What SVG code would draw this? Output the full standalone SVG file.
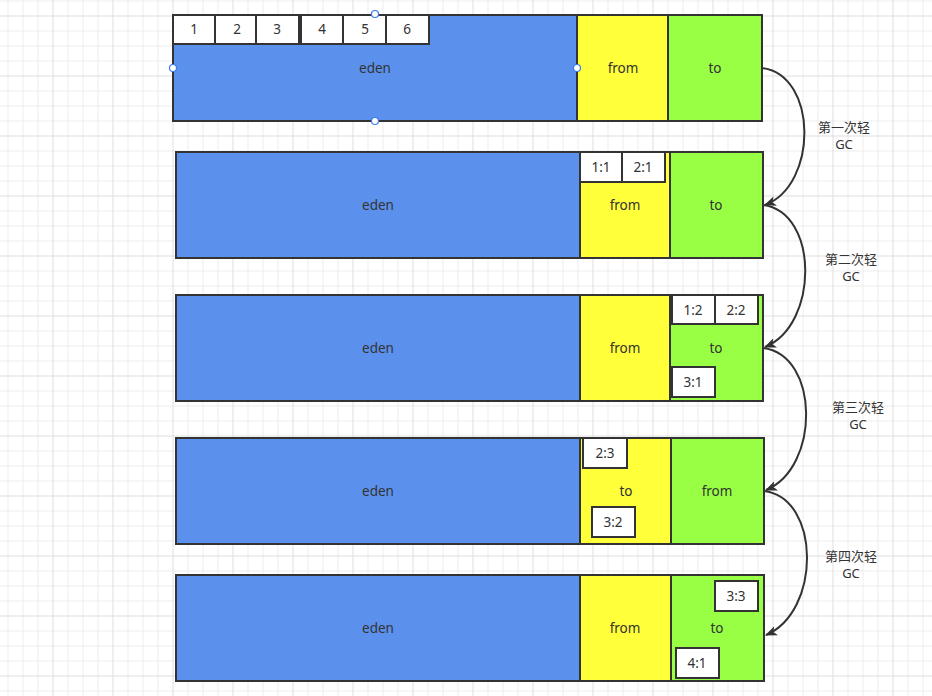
<svg xmlns="http://www.w3.org/2000/svg" width="932" height="696" viewBox="0 0 932 696">
  <defs>
    <pattern id="grid" patternUnits="userSpaceOnUse" x="52.5" y="15.5" width="60" height="60">
      <rect x="0" y="0" width="60" height="60" fill="#ffffff"/>
      <path d="M15.5,0V60M30.5,0V60M45.5,0V60M0,15.5H60M0,30.5H60M0,45.5H60" stroke="#ececec" stroke-width="1" fill="none"/>
      <path d="M0.5,0V60M0,0.5H60" stroke="#dedede" stroke-width="1" fill="none"/>
    </pattern>
    <marker id="arr" viewBox="0 0 12 10" refX="11" refY="5" markerWidth="12" markerHeight="10" markerUnits="userSpaceOnUse" orient="auto">
      <path d="M0,0 L12,5 L0,10 L3,5 Z" fill="#333333"/>
    </marker>
  </defs>
  <style>
    .eden { fill: #5b91ec; stroke: #333333; stroke-width: 2; }
    .yel { fill: #ffff3a; stroke: #333333; stroke-width: 2; }
    .grn { fill: #99ff44; stroke: #333333; stroke-width: 2; }
    .box { fill: #ffffff; stroke: #333333; stroke-width: 2; }
    text { font-family: "Noto Sans", "Noto Sans CJK SC", sans-serif; fill: #333333; text-anchor: middle; }
    .t { font-size: 13.5px; }
    .lbl { font-size: 13px; }
    .edge { fill: none; stroke: #333333; stroke-width: 2; marker-end: url(#arr); }
    .handle { fill: #ffffff; stroke: #3a7cf0; stroke-width: 1.2; }
  </style>
  <rect x="0" y="0" width="932" height="696" fill="url(#grid)"/>

  <g id="row1">
    <rect class="eden" x="173" y="15" width="404" height="106"/>
    <rect class="yel" x="577" y="15" width="91" height="106"/>
    <rect class="grn" x="668" y="15" width="94" height="106"/>
    <text class="t" x="375" y="73">eden</text>
    <text class="t" x="623" y="73">from</text>
    <text class="t" x="715" y="73">to</text>
    <rect class="box" x="173" y="15" width="42" height="29"/>
    <rect class="box" x="215" y="15" width="41" height="29"/>
    <rect class="box" x="256" y="15" width="43" height="29"/>
    <rect class="box" x="301" y="15" width="42" height="29"/>
    <rect class="box" x="343" y="15" width="43" height="29"/>
    <rect class="box" x="386" y="15" width="43" height="29"/>
    <text class="t" x="194" y="34">1</text>
    <text class="t" x="237" y="34">2</text>
    <text class="t" x="277" y="34">3</text>
    <text class="t" x="322" y="34">4</text>
    <text class="t" x="365" y="34">5</text>
    <text class="t" x="407" y="34">6</text>
    <circle class="handle" cx="375" cy="14" r="3.5"/>
    <circle class="handle" cx="173" cy="68" r="3.5"/>
    <circle class="handle" cx="577" cy="68" r="3.5"/>
    <circle class="handle" cx="375" cy="121" r="3.5"/>
  </g>

  <g id="row2">
    <rect class="eden" x="176" y="152" width="404" height="106"/>
    <rect class="yel" x="580" y="152" width="90" height="106"/>
    <rect class="grn" x="670" y="152" width="93" height="106"/>
    <text class="t" x="378" y="210">eden</text>
    <text class="t" x="625" y="210">from</text>
    <text class="t" x="716" y="210">to</text>
    <rect class="box" x="580" y="152" width="42" height="30"/>
    <rect class="box" x="622" y="152" width="43" height="30"/>
    <text class="t" x="601" y="172">1:1</text>
    <text class="t" x="643" y="172">2:1</text>
  </g>

  <g id="row3">
    <rect class="eden" x="176" y="295" width="404" height="106"/>
    <rect class="yel" x="580" y="295" width="90" height="106"/>
    <rect class="grn" x="670" y="295" width="93" height="106"/>
    <text class="t" x="378" y="353">eden</text>
    <text class="t" x="625" y="353">from</text>
    <text class="t" x="716" y="353">to</text>
    <rect class="box" x="672" y="295" width="43" height="29"/>
    <rect class="box" x="715" y="295" width="43" height="29"/>
    <rect class="box" x="672" y="367" width="43" height="30"/>
    <text class="t" x="693" y="315">1:2</text>
    <text class="t" x="736" y="315">2:2</text>
    <text class="t" x="693" y="387">3:1</text>
  </g>

  <g id="row4">
    <rect class="eden" x="176" y="438" width="404" height="106"/>
    <rect class="yel" x="580" y="438" width="91" height="106"/>
    <rect class="grn" x="671" y="438" width="93" height="106"/>
    <text class="t" x="378" y="496">eden</text>
    <text class="t" x="626" y="496">to</text>
    <text class="t" x="717" y="496">from</text>
    <rect class="box" x="583" y="438" width="44" height="30"/>
    <rect class="box" x="592" y="507" width="43" height="30"/>
    <text class="t" x="605" y="458">2:3</text>
    <text class="t" x="613" y="527">3:2</text>
  </g>

  <g id="row5">
    <rect class="eden" x="176" y="575" width="404" height="106"/>
    <rect class="yel" x="580" y="575" width="91" height="106"/>
    <rect class="grn" x="671" y="575" width="93" height="106"/>
    <text class="t" x="378" y="633">eden</text>
    <text class="t" x="625" y="633">from</text>
    <text class="t" x="717" y="633">to</text>
    <rect class="box" x="715" y="581" width="43" height="30"/>
    <rect class="box" x="676" y="648" width="43" height="30"/>
    <text class="t" x="736" y="601">3:3</text>
    <text class="t" x="697" y="668">4:1</text>
  </g>

  <g id="connectors">
    <path class="edge" d="M762,68 C818,75 818,185 765,205"/>
    <path class="edge" d="M763,205 C819,212 819,325 765,347"/>
    <path class="edge" d="M763,348 C820,355 820,468 766,490"/>
    <path class="edge" d="M764,491 C821,498 821,612 766,635"/>
    <text class="lbl" x="844" y="132">第一次轻</text>
    <text class="lbl" x="844" y="149">GC</text>
    <text class="lbl" x="851" y="264">第二次轻</text>
    <text class="lbl" x="851" y="281">GC</text>
    <text class="lbl" x="858" y="412">第三次轻</text>
    <text class="lbl" x="858" y="429">GC</text>
    <text class="lbl" x="851" y="561">第四次轻</text>
    <text class="lbl" x="851" y="578">GC</text>
  </g>
</svg>
